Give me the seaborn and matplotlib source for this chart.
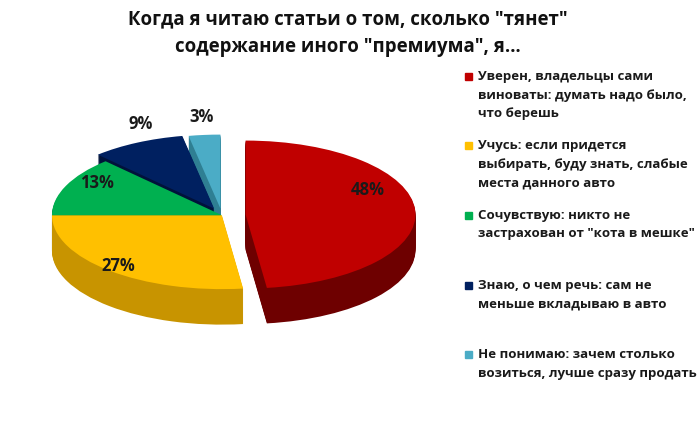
import numpy as np
import matplotlib.pyplot as plt
import seaborn as sns

# data
answers = [
    'Уверен, владельцы сами\nвиноваты: думать надо было,\nчто берешь',
    'Учусь: если придется\nвыбирать, буду знать, слабые\nместа данного авто',
    'Сочувствую: никто не\nзастрахован от "кота в мешке"',
    'Знаю, о чем речь: сам не\nменьше вкладываю в авто',
    'Не понимаю: зачем столько\nвозиться, лучше сразу продать',
]
shares = [48, 27, 13, 9, 3]

top_colors = ['#c00000', '#ffc000', '#00b050', '#002060', '#4bacc6']
side_colors = ['#6e0000', '#c89400', '#005c2c', '#00123a', '#2f7f93']
explode = [0.14, 0, 0, 0.1, 0.09]

# label placement (radius from wedge centre, extra lift)
lab_r = [0.72, 0.92, 0.8, 0.95, 1.2]
lab_dy = [0.28, 0.0, 0.12, 0.3, 0.05]

sns.set_theme(style='white')
plt.rcParams['font.family'] = ['Open Sans', 'DejaVu Sans']

fig = plt.figure(figsize=(7, 4.23), dpi=100)
ax = fig.add_axes([0, 0.196, 0.631, 0.567])

# fake 3d: stack darker copies of the pie below the top face
depth = 0.48
for d in np.linspace(depth, 0.0, 36)[:-1]:
    ax.pie(shares, colors=side_colors, explode=explode, startangle=90,
           counterclock=False, center=(0, -d), wedgeprops=dict(linewidth=0))
wedges, _ = ax.pie(shares, colors=top_colors, explode=explode, startangle=90,
                   counterclock=False, center=(0, 0), wedgeprops=dict(linewidth=0))

for w, s, r, dy in zip(wedges, shares, lab_r, lab_dy):
    mid = np.deg2rad((w.theta1 + w.theta2) / 2)
    cx, cy = w.center
    ax.text(cx + r * np.cos(mid), cy + r * np.sin(mid) + dy, f'{s}%',
            ha='center', va='center', fontsize=12, fontweight='bold', color='#1a1a1a')

ax.set_aspect('auto')
ax.set_xlim(-222 / 170, 220 / 170)
ax.set_ylim(-125 / 74, 115 / 74)
ax.axis('off')

fig.text(0.497, 0.978, 'Когда я читаю статьи о том, сколько "тянет"\nсодержание иного "премиума", я…',
         ha='center', va='top', fontsize=13.4, fontweight='bold', color='#111111', linespacing=1.5)

# legend on the right, entries evenly spaced like excel does
for i, (txt, c) in enumerate(zip(answers, top_colors)):
    ytop = 1 - (70 + i * 69.5) / 423
    fig.patches.append(plt.Rectangle((465 / 700, ytop - 10 / 423), 7 / 700, 7 / 423,
                                     transform=fig.transFigure, color=c))
    fig.text(478 / 700, ytop, txt, ha='left', va='top', fontsize=9.5,
             fontweight='bold', color='#1a1a1a', linespacing=1.55)

fig.savefig('out.png', dpi=100, facecolor='white')
